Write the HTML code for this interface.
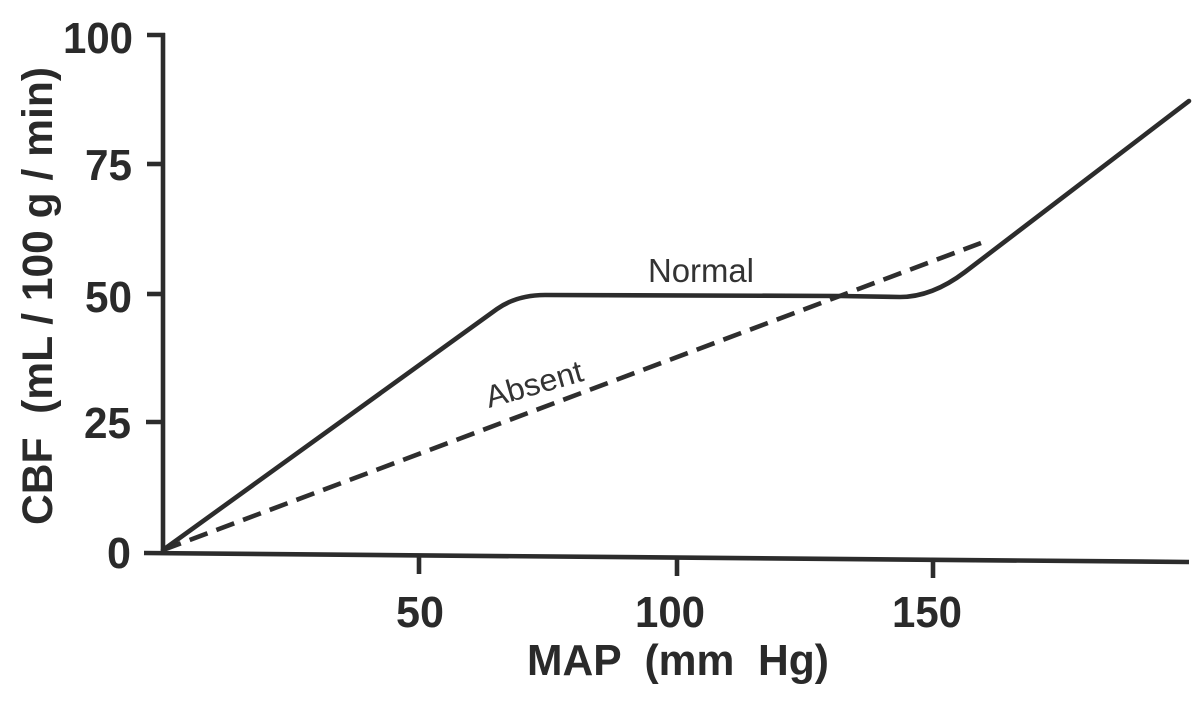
<!DOCTYPE html>
<html>
<head>
<meta charset="utf-8">
<style>
  html, body { margin: 0; padding: 0; background: #ffffff; }
  svg { display: block; }
  .tick { font-family: "Liberation Sans", Arial, sans-serif; font-weight: bold; font-size: 44px; fill: #2a2a2a; }
  .lab { font-family: "Liberation Sans", Arial, sans-serif; font-weight: bold; font-size: 43px; fill: #2a2a2a; white-space: pre; }
  .ann { font-family: "Liberation Sans", Arial, sans-serif; font-weight: normal; font-size: 33.5px; fill: #333333; }
</style>
</head>
<body>
<svg width="1200" height="711" viewBox="0 0 1200 711" xmlns="http://www.w3.org/2000/svg">
  <rect width="1200" height="711" fill="#ffffff"/>

  <!-- Y axis -->
  <line x1="163" y1="33" x2="163" y2="555" stroke="#2c2c2c" stroke-width="4.6"/>
  <line x1="147" y1="35" x2="165" y2="35" stroke="#2c2c2c" stroke-width="4.6"/>
  <line x1="147" y1="164" x2="163" y2="164" stroke="#2c2c2c" stroke-width="4.6"/>
  <line x1="147" y1="294" x2="163" y2="294" stroke="#2c2c2c" stroke-width="4.6"/>
  <line x1="146" y1="422" x2="163" y2="422" stroke="#2c2c2c" stroke-width="4.6"/>

  <!-- X axis (slightly tilted as in scan) -->
  <line x1="144" y1="553" x2="1189" y2="562" stroke="#2c2c2c" stroke-width="4.6"/>
  <line x1="419" y1="555" x2="419" y2="574" stroke="#2c2c2c" stroke-width="4.6"/>
  <line x1="677" y1="557" x2="677" y2="576" stroke="#2c2c2c" stroke-width="4.6"/>
  <line x1="933" y1="559" x2="933" y2="578" stroke="#2c2c2c" stroke-width="4.6"/>

  <!-- Y tick labels -->
  <text class="tick" x="133" y="53" text-anchor="end" textLength="70" lengthAdjust="spacingAndGlyphs">100</text>
  <text class="tick" x="132" y="180" text-anchor="end" textLength="47" lengthAdjust="spacingAndGlyphs">75</text>
  <text class="tick" x="132" y="312" text-anchor="end" textLength="47" lengthAdjust="spacingAndGlyphs">50</text>
  <text class="tick" x="131" y="438" text-anchor="end" textLength="47" lengthAdjust="spacingAndGlyphs">25</text>
  <text class="tick" x="131" y="568" text-anchor="end" textLength="24" lengthAdjust="spacingAndGlyphs">0</text>

  <!-- X tick labels -->
  <text class="tick" x="420" y="627" text-anchor="middle" textLength="48" lengthAdjust="spacingAndGlyphs">50</text>
  <text class="tick" x="670" y="627" text-anchor="middle" textLength="70" lengthAdjust="spacingAndGlyphs">100</text>
  <text class="tick" x="927" y="627" text-anchor="middle" textLength="70" lengthAdjust="spacingAndGlyphs">150</text>

  <!-- Axis titles -->
  <text class="lab" x="678" y="675" text-anchor="middle" style="font-size:44px" textLength="302" lengthAdjust="spacingAndGlyphs">MAP  (mm  Hg)</text>
  <text class="lab" transform="translate(52,296) rotate(-90)" text-anchor="middle" textLength="458" lengthAdjust="spacingAndGlyphs">CBF  (mL / 100 g / min)</text>

  <!-- Absent (dashed) -->
  <line x1="163" y1="550" x2="981" y2="243" stroke="#2e2e2e" stroke-width="4.6" stroke-dasharray="19 9.5"/>

  <!-- Normal (solid) -->
  <path d="M163,550 L497,309 Q517,295 545,295 L840,296 L900,297 Q932,297 965,272 L1189,101"
        fill="none" stroke="#2c2c2c" stroke-width="4.6" stroke-linejoin="round" stroke-linecap="round"/>

  <!-- Annotations -->
  <text class="ann" x="648" y="282" textLength="106" lengthAdjust="spacingAndGlyphs">Normal</text>
  <text class="ann" transform="translate(489,408) rotate(-16)" style="font-size:31px" textLength="100" lengthAdjust="spacingAndGlyphs">Absent</text>
</svg>
</body>
</html>
